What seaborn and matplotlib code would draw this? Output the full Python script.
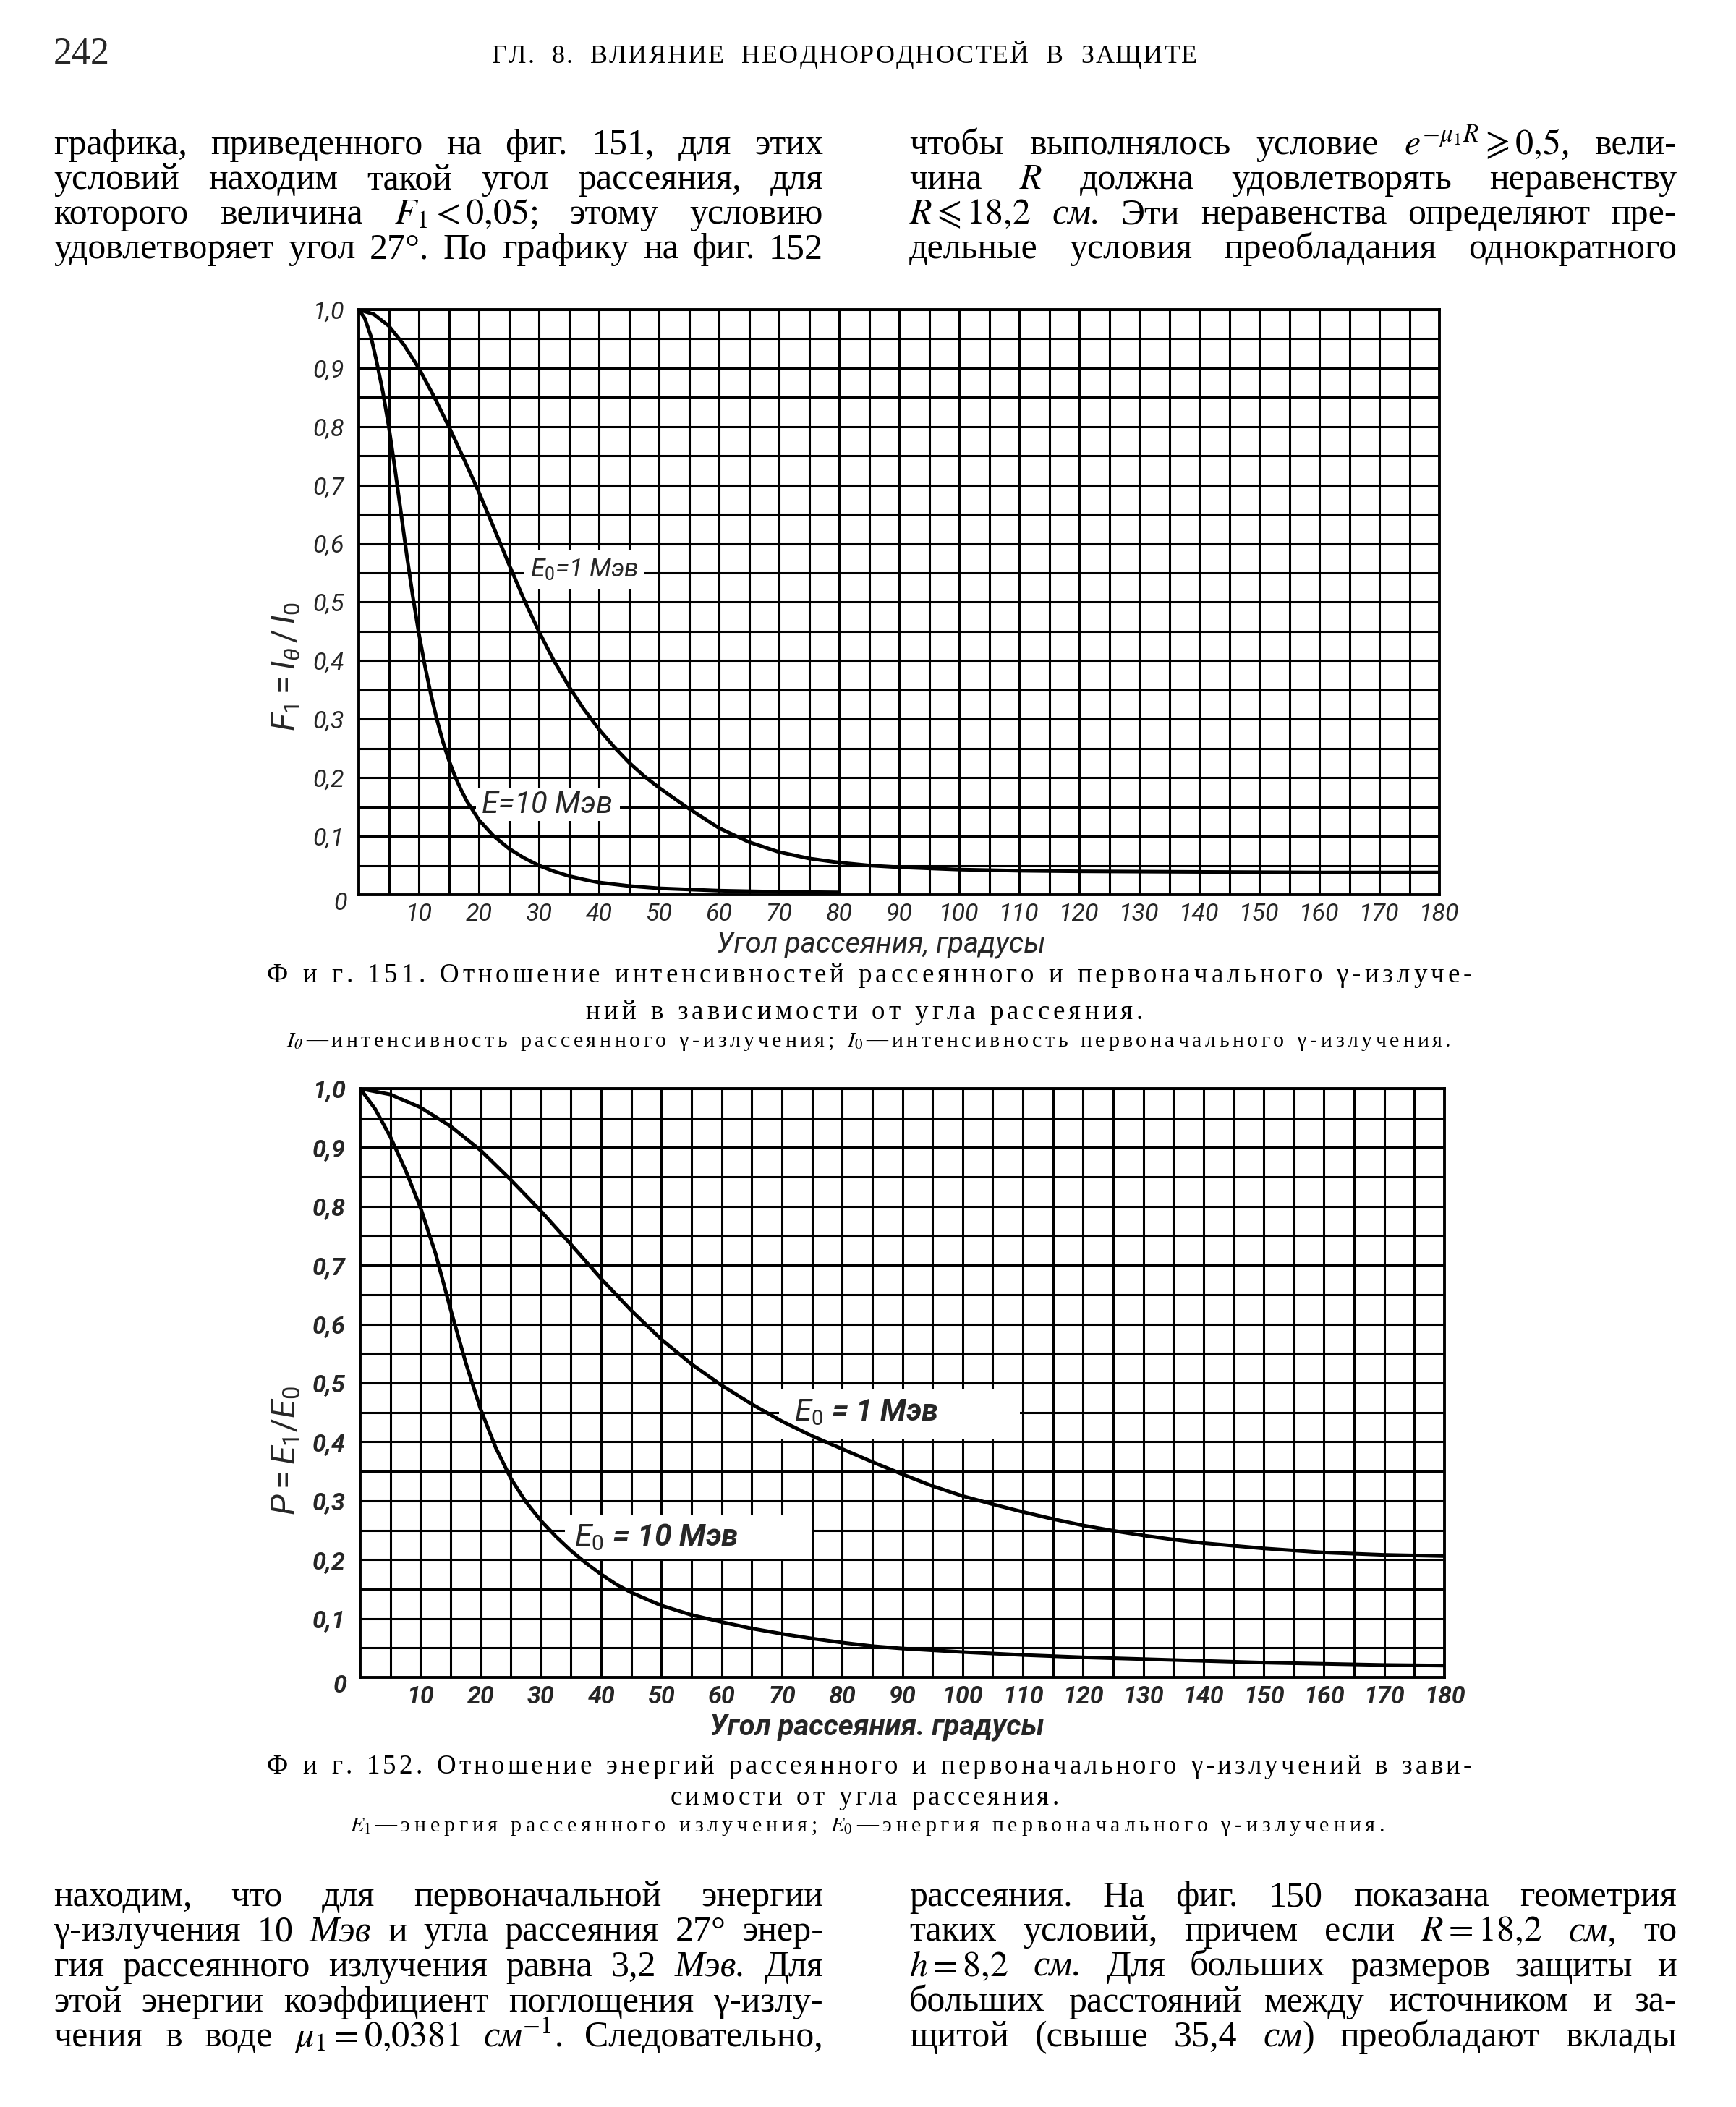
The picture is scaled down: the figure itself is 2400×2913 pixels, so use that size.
import numpy as np
import seaborn as sns
import matplotlib
matplotlib.use("Agg")
import matplotlib.pyplot as plt
from matplotlib import font_manager
from matplotlib.patches import Rectangle

# ---------------- data ----------------
# Fig. 151 : F1 = I_theta / I_0 against scattering angle
ang151_e1 = [0, 2.5, 5, 7.5, 10, 12.5, 15, 17.5, 20, 22.5, 25, 27.5, 30, 32.5, 35, 37.5, 40,
             42.5, 45, 47.5, 50, 55, 60, 65, 70, 75, 80, 85, 90, 100, 110, 120, 140, 160, 180]
f151_e1 = [1.0, 0.992, 0.972, 0.94, 0.90, 0.852, 0.80, 0.745, 0.688, 0.627, 0.565, 0.505, 0.45,
           0.40, 0.356, 0.317, 0.283, 0.253, 0.226, 0.203, 0.183, 0.147, 0.114, 0.09, 0.073,
           0.062, 0.055, 0.05, 0.047, 0.043, 0.041, 0.04, 0.039, 0.038, 0.038]
ang151_e10 = [0, 1, 2, 3, 4, 5, 6, 7, 8, 9, 10, 11, 12, 13, 14, 15, 16, 17, 18, 20, 22.5, 25,
              27.5, 30, 32.5, 35, 37.5, 40, 45, 50, 55, 60, 70, 80]
f151_e10 = [1.0, 0.985, 0.955, 0.91, 0.86, 0.80, 0.73, 0.655, 0.58, 0.51, 0.447, 0.392, 0.343,
            0.30, 0.262, 0.23, 0.203, 0.18, 0.16, 0.128, 0.10, 0.079, 0.063, 0.05, 0.04, 0.032,
            0.026, 0.021, 0.015, 0.011, 0.009, 0.007, 0.005, 0.004]

# Fig. 152 : P = E1 / E0 against scattering angle
ang152_e1 = [0, 5, 10, 15, 20, 25, 30, 35, 40, 45, 50, 55, 60, 65, 70, 75, 80, 85, 90, 95, 100,
             105, 110, 115, 120, 125, 130, 135, 140, 150, 160, 170, 180]
p152_e1 = [1.0, 0.99, 0.968, 0.936, 0.895, 0.845, 0.792, 0.735, 0.677, 0.623, 0.574, 0.532,
           0.496, 0.464, 0.435, 0.41, 0.388, 0.366, 0.345, 0.325, 0.308, 0.294, 0.281, 0.269,
           0.258, 0.249, 0.241, 0.234, 0.228, 0.219, 0.212, 0.208, 0.206]
ang152_e10 = [0, 2.5, 5, 7.5, 10, 12.5, 15, 17.5, 20, 22.5, 25, 27.5, 30, 32.5, 35, 37.5, 40,
              42.5, 45, 50, 55, 60, 65, 70, 75, 80, 85, 90, 100, 110, 120, 130, 140, 150, 160,
              170, 180]
p152_e10 = [1.0, 0.965, 0.918, 0.862, 0.798, 0.72, 0.625, 0.535, 0.455, 0.39, 0.338, 0.298,
            0.266, 0.239, 0.215, 0.194, 0.175, 0.158, 0.144, 0.122, 0.106, 0.094, 0.083, 0.074,
            0.066, 0.059, 0.053, 0.049, 0.043, 0.038, 0.034, 0.031, 0.028, 0.025, 0.023,
            0.021, 0.02]

x_ticks = list(range(10, 181, 10))
x_tick_labels = [str(v) for v in x_ticks]
y_ticks = [round(0.1 * i, 1) for i in range(1, 11)]
y_tick_labels = ["0,1", "0,2", "0,3", "0,4", "0,5", "0,6", "0,7", "0,8", "0,9", "1,0"]

labels151 = ["$E_0$=1 Мэв", "E=10 Мэв"]
labels152 = ["$E_0$ = 1 Мэв", "$E_0$ = 10 Мэв"]
ylabel151 = r"$F_1 = I_\theta\,/\,I_0$"
ylabel152 = r"$P = E_1/E_0$"
xlabel151 = "Угол рассеяния, градусы"
xlabel152 = "Угол рассеяния. градусы"

IT = {"style": "italic"}
header_words = ["ГЛ.", "8.", "ВЛИЯНИЕ", "НЕОДНОРОДНОСТЕЙ", "В", "ЗАЩИТЕ"]
top_left = [
    ["графика,", "приведенного", "на", "фиг.", "151,", "для", "этих"],
    ["условий", "находим", "такой", "угол", "рассеяния,", "для"],
    ["которого", "величина", "$F_1<0{,}05$;", "этому", "условию"],
    ["удовлетворяет", "угол", "27°.", "По", "графику", "на", "фиг.", "152"],
]
top_right = [
    ["чтобы", "выполнялось", "условие", r"$e^{-\mu_1 R}\geqslant 0{,}5$,", "вели-"],
    ["чина", "$R$", "должна", "удовлетворять", "неравенству"],
    [r"$R\leqslant 18{,}2$", ("см.", IT), "Эти", "неравенства", "определяют", "пре-"],
    ["дельные", "условия", "преобладания", "однократного"],
]
bottom_left = [
    ["находим,", "что", "для", "первоначальной", "энергии"],
    ["γ-излучения", "10", ("Мэв", IT), "и", "угла", "рассеяния", "27°", "энер-"],
    ["гия", "рассеянного", "излучения", "равна", "3,2", ("Мэв.", IT), "Для"],
    ["этой", "энергии", "коэффициент", "поглощения", "γ-излу-"],
    ["чения", "в", "воде", r"$\mu_1=0{,}0381$", [("см", IT), ("$^{-1}$.", {})], "Следовательно,"],
]
bottom_right = [
    ["рассеяния.", "На", "фиг.", "150", "показана", "геометрия"],
    ["таких", "условий,", "причем", "если", "$R=18{,}2$", ("см,", IT), "то"],
    ["$h=8{,}2$", ("см.", IT), "Для", "больших", "размеров", "защиты", "и"],
    ["больших", "расстояний", "между", "источником", "и", "за-"],
    ["щитой", "(свыше", "35,4", [("см", IT), (")", {})], "преобладают", "вклады"],
]
cap151 = [
    ["Ф", "и", "г.", "151.", "Отношение", "интенсивностей", "рассеянного", "и", "первоначального", "γ-излуче-"],
    ["ний", "в", "зависимости", "от", "угла", "рассеяния."],
    [[(r"$I_\theta$", {}), ("—интенсивность", {})], "рассеянного", "γ-излучения;",
     [("$I_0$", {}), ("—интенсивность", {})], "первоначального", "γ-излучения."],
]
cap152 = [
    ["Ф", "и", "г.", "152.", "Отношение", "энергий", "рассеянного", "и", "первоначального", "γ-излучений", "в", "зави-"],
    ["симости", "от", "угла", "рассеяния."],
    [[("$E_1$", {}), ("—энергия", {})], "рассеянного", "излучения;",
     [("$E_0$", {}), ("—энергия", {})], "первоначального", "γ-излучения."],
]

# ---------------- setup ----------------
W, H, DPI = 2400, 2913, 200
sns.set_style("white")
SERIF = ["Liberation Serif", "DejaVu Serif"]
plt.rcParams["font.family"] = SERIF
plt.rcParams["mathtext.fontset"] = "stix"

names = {f.name for f in font_manager.fontManager.ttflist}
if "Roboto" in names:
    CHART = ["Roboto", "DejaVu Sans"]
    plt.rcParams["mathtext.rm"] = "Roboto"
    plt.rcParams["mathtext.it"] = "Roboto:italic"
    plt.rcParams["mathtext.bf"] = "Roboto:bold"
    plt.rcParams["mathtext.sf"] = "Roboto"
    MATH_CHART = "custom"
else:
    CHART = ["DejaVu Sans"]
    MATH_CHART = "dejavusans"


def pt(px):
    return px * 72 / DPI


fig = plt.figure(figsize=(W / DPI, H / DPI), dpi=DPI)
fig.patch.set_facecolor("white")
R = fig.canvas.get_renderer()
_cache = {}


def measure(s, props):
    key = (s, tuple(sorted((k, str(v)) for k, v in props.items())))
    if key not in _cache:
        t = fig.text(0, 0, s, **props)
        _cache[key] = t.get_window_extent(R).width
        t.remove()
    return _cache[key]


def word_parts(word, props, split):
    if isinstance(word, str):
        segs = [(word, {})]
    elif isinstance(word, tuple):
        segs = [word]
    else:
        segs = word
    out = []
    for s, kw in segs:
        p = {**props, **kw}
        if split and "$" not in s:
            out += [(ch, p) for ch in s]
        else:
            out.append((s, p))
    return out


def word_w(parts, track):
    return sum(measure(s, p) for s, p in parts) + track * (len(parts) - 1)


def draw_line(y, words, props, x0=None, x1=None, center=None, gap=None,
              track=0.0, split=False, solve=False):
    parts = [word_parts(w, props, split) for w in words]
    if solve:
        base = sum(word_w(p, 0) for p in parts) + gap * (len(parts) - 1)
        n = sum(len(p) - 1 for p in parts)
        track = max((x1 - x0 - base) / n, 0.5)
    widths = [word_w(p, track) for p in parts]
    if gap is None:
        gap = (x1 - x0 - sum(widths)) / max(len(words) - 1, 1)
    total = sum(widths) + gap * (len(words) - 1)
    x = x0 if center is None else center - total / 2
    for p, w in zip(parts, widths):
        xx = x
        for s, pr in p:
            fig.text(xx / W, 1 - y / H, s, ha="left", va="baseline", **pr)
            xx += measure(s, pr) + track
        x += w + gap
    return track


def fit(s, target, props):
    return 12 * target / measure(s, {**props, "size": 12})


# ---------------- page text ----------------
body = {"family": SERIF, "size": pt(50), "math_fontfamily": "stix", "color": "black"}
fig.text(74 / W, 1 - 88 / H, "242", ha="left", va="baseline", family=SERIF, size=pt(52))
draw_line(87, header_words, {"family": SERIF, "size": pt(36), "color": "black"},
          x0=680, x1=1655, gap=24, split=True, solve=True)

for i, ln in enumerate(top_left):
    draw_line(213 + 48 * i, ln, body, x0=74, x1=1138)
for i, ln in enumerate(top_right):
    draw_line(213 + 48 * i, ln, body, x0=1257, x1=2318)
for i, ln in enumerate(bottom_left):
    draw_line(2635 + 48.5 * i, ln, body, x0=74, x1=1138)
for i, ln in enumerate(bottom_right):
    draw_line(2635 + 48.5 * i, ln, body, x0=1257, x1=2318)

cap = {"family": SERIF, "size": pt(37), "math_fontfamily": "stix", "color": "black"}
cap_small = {**cap, "size": pt(30)}
for lines, ys, x3 in [(cap151, (1358, 1409, 1447), (396, 2006)),
                      (cap152, (2452, 2495, 2532), (484, 1914))]:
    tr = draw_line(ys[0], lines[0], cap, x0=369, x1=2035, gap=20, split=True, solve=True)
    draw_line(ys[1], lines[1], cap, center=1195, gap=20, track=tr, split=True)
    draw_line(ys[2], lines[2], cap_small, x0=x3[0], x1=x3[1], gap=18, split=True, solve=True)


# ---------------- charts ----------------
def chart(box, series, labels, label_pos, label_w, rects, ylab, ylab_y, xlab, xlab_xy, weight):
    left, top, right, bottom = box
    ax = fig.add_axes([left / W, 1 - bottom / H, (right - left) / W, (bottom - top) / H])
    ax.set_axisbelow(True)
    for ang, val in series:
        sns.lineplot(x=ang, y=val, ax=ax, color="black", linewidth=1.8, zorder=3)
    ax.set_xlim(0, 180)
    ax.set_ylim(0, 1)
    tick = {"family": CHART, "style": "italic", "weight": weight}
    tsize = pt(34)
    ax.set_xticks(x_ticks)
    ax.set_xticks(np.arange(5, 180, 10), minor=True)
    ax.set_yticks(y_ticks)
    ax.set_yticks(np.arange(0.05, 1.0, 0.1), minor=True)
    ax.set_xticklabels(x_tick_labels, size=tsize, **tick)
    ax.set_yticklabels(y_tick_labels, size=tsize, **tick)
    ax.tick_params(which="both", length=0)
    ax.tick_params(axis="x", pad=pt(11))
    ax.tick_params(axis="y", pad=pt(20))
    ax.grid(True, which="both", color="black", linewidth=1.1)
    for sp in ax.spines.values():
        sp.set_visible(True)
        sp.set_color("black")
        sp.set_linewidth(1.4)
    ax.set_xlabel("")
    ax.set_ylabel("")
    for (x0, x1, y0, y1) in rects:
        ax.add_patch(Rectangle((x0, y0), x1 - x0, y1 - y0, facecolor="white",
                               edgecolor="none", zorder=2))
    lab = {"family": CHART, "style": "italic", "weight": weight, "math_fontfamily": MATH_CHART}
    for s, (lx, ly), lw in zip(labels, label_pos, label_w):
        ax.text(lx, ly, s, ha="left", va="center", zorder=4, size=fit(s, lw, lab), **lab)
    fig.text(470 / W, 1 - (bottom + 12) / H, "0", ha="center", va="center", size=tsize, **tick)
    ys = fit(ylab, 180, lab)
    fig.text(396 / W, 1 - ylab_y / H, ylab, rotation=90, ha="center", va="center", size=ys, **lab)
    xs = min(fit(xlab, 490, lab), pt(40))
    fig.text(xlab_xy[0] / W, 1 - xlab_xy[1] / H, xlab, ha="center", va="center", size=xs, **lab)
    return ax


chart((496, 428, 1990, 1237),
      [(ang151_e1, f151_e1), (ang151_e10, f151_e10)],
      labels151, [(28.5, 0.555), (20.5, 0.154)], [150, 182],
      [(27.5, 47.5, 0.522, 0.588), (19.5, 43.5, 0.126, 0.182)],
      ylabel151, 922, xlabel151, (1218, 1306), "normal")

chart((498, 1505, 1997, 2319),
      [(ang152_e1, p152_e1), (ang152_e10, p152_e10)],
      labels152, [(72.0, 0.45), (35.5, 0.238)], [200, 228],
      [(69.5, 109.5, 0.405, 0.49), (34.0, 75.0, 0.2, 0.276)],
      ylabel152, 2005, xlabel152, (1212, 2388), "bold")

fig.savefig("out.png", dpi=DPI, facecolor="white")
